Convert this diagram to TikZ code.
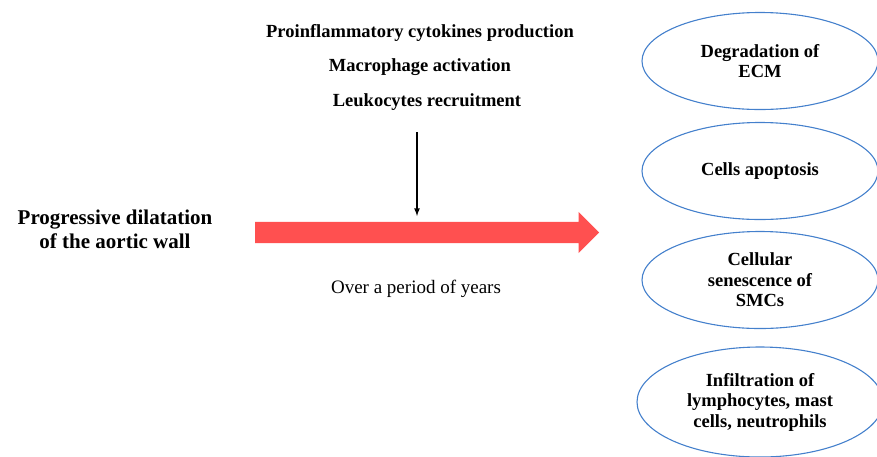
\documentclass[tikz,border=0pt]{standalone}
\usepackage{fontspec}
\setmainfont{Liberation Serif}
\usepackage{tikz}
\usetikzlibrary{shapes.geometric,shapes.arrows}

\definecolor{ovalblue}{RGB}{68,128,204}
\definecolor{bigred}{RGB}{255,80,80}

\begin{document}
\begin{tikzpicture}
  [x=1pt,y=-1pt,
   lbl/.style={font=\bfseries\fontsize{18.5}{20.5}\selectfont,align=center,inner sep=0},
   oval/.style={ellipse,draw=ovalblue,line width=1.1pt,inner sep=0,minimum width=236,minimum height=97}]
  \useasboundingbox (0,0) rectangle (877,456);

  \node[lbl] (pro) at (420,33) {Proinflammatory cytokines production};
  \node[lbl] (mac) at (420,67) {Macrophage activation};
  \node[lbl] (leu) at (427,102) {Leukocytes recruitment};

  \node[lbl,font=\bfseries\fontsize{21}{24}\selectfont] (prog) at (115,229) {Progressive dilatation\\of the aortic wall};
  \node[single arrow,fill=bigred,inner sep=0,text height=10.5pt,text depth=10.5pt,minimum height=344,
        single arrow head extend=10,single arrow tip angle=90,anchor=west] (time) at (255,232.5) {};
  \node[lbl,font=\fontsize{19}{20}\selectfont] (years) at (416,289) {Over a period of years};

  \node[oval] (ecm) at (760,61) {};
  \node[lbl] at (ecm) {Degradation of\\ECM};
  \node[oval] (apo) at (760,171) {};
  \node[lbl] at (apo) {Cells apoptosis};
  \node[oval] (smc) at (760,280) {};
  \node[lbl] at (smc) {Cellular\\senescence of\\SMCs};
  \node[oval,minimum width=246,minimum height=110] (inf) at (760,402) {};
  \node[lbl] at (inf) {Infiltration of\\lymphocytes, mast\\cells, neutrophils};

  \coordinate (top) at (417,132);
  \coordinate (down) at (417,216);
  \draw[-latex,line width=1.6pt] (top) -- (down);

\end{tikzpicture}
\end{document}
